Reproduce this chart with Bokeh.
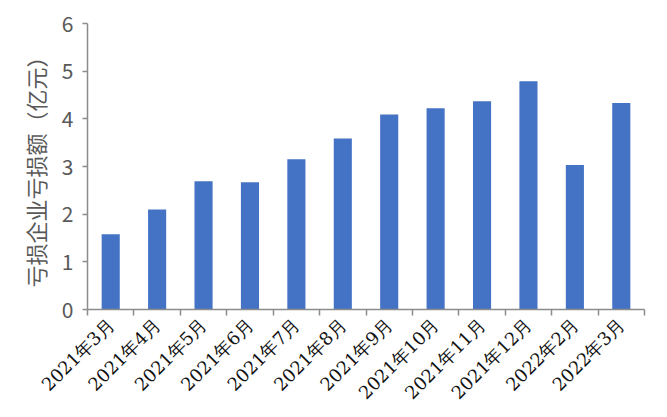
import math
from bokeh.plotting import figure
from bokeh.models import FixedTicker, Range1d, ColumnDataSource
from bokeh.embed import file_html
from bokeh.resources import INLINE

months = ["2021年3月", "2021年4月", "2021年5月", "2021年6月", "2021年7月", "2021年8月",
          "2021年9月", "2021年10月", "2021年11月", "2021年12月", "2022年2月", "2022年3月"]
losses = [1.58, 2.10, 2.69, 2.67, 3.15, 3.59, 4.09, 4.22, 4.37, 4.79, 3.03, 4.33]
y_ticks = [0, 1, 2, 3, 4, 5, 6]
y_title = "亏损企业亏损额（亿元）"

n = len(months)
centers = [i + 0.5 for i in range(n)]
src = ColumnDataSource(dict(x=centers, top=losses))

p = figure(width=667, height=417, output_backend="svg", toolbar_location=None,
           x_range=Range1d(0, n), y_range=Range1d(0, 6),
           min_border_left=87, min_border_right=23, min_border_top=23, min_border_bottom=108)
p.outline_line_color = None
p.grid.visible = False
p.background_fill_color = "white"
p.border_fill_color = "white"

p.vbar(x="x", top="top", width=0.39, bottom=0, source=src, fill_color="#4472C4", line_color=None)

axis_color = "#8C8C8C"
p.xaxis.ticker = FixedTicker(ticks=centers, minor_ticks=list(range(n + 1)))
p.xaxis.major_label_overrides = {c: m for c, m in zip(centers, months)}
p.xaxis.major_label_orientation = math.pi / 4
p.xaxis.major_tick_out = 0
p.xaxis.major_tick_in = 0
p.xaxis.minor_tick_out = 6
p.xaxis.minor_tick_in = 0
p.xaxis.minor_tick_line_color = axis_color
p.xaxis.minor_tick_line_width = 1.5
p.xaxis.axis_line_color = axis_color
p.xaxis.axis_line_width = 1.5
p.xaxis.major_label_text_font = "DejaVu Serif"
p.xaxis.major_label_text_font_size = "18px"
p.xaxis.major_label_text_color = "#111111"
p.xaxis.major_label_standoff = 6

p.yaxis.ticker = FixedTicker(ticks=y_ticks)
p.yaxis.minor_tick_line_color = None
p.yaxis.major_tick_out = 5
p.yaxis.major_tick_in = 0
p.yaxis.major_tick_line_color = axis_color
p.yaxis.major_tick_line_width = 1.5
p.yaxis.axis_line_color = axis_color
p.yaxis.axis_line_width = 1.5
p.yaxis.major_label_text_font = "Noto Sans CJK SC"
p.yaxis.major_label_text_font_size = "21px"
p.yaxis.major_label_text_color = "#595959"
p.yaxis.major_label_standoff = 9
p.yaxis.axis_label = y_title
p.yaxis.axis_label_text_font = "Noto Sans CJK SC"
p.yaxis.axis_label_text_font_style = "normal"
p.yaxis.axis_label_text_font_size = "22px"
p.yaxis.axis_label_text_color = "#595959"
p.yaxis.axis_label_standoff = 8

open("out.html", "w").write(file_html(p, INLINE))
